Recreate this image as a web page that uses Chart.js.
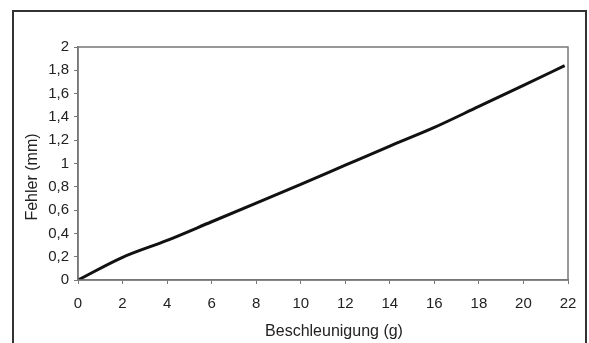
<!DOCTYPE html>
<html>
<head>
<meta charset="utf-8">
<script src="https://cdn.jsdelivr.net/npm/chart.js@4/dist/chart.umd.min.js"></script>
<style>
  html, body { margin: 0; padding: 0; background: #fff; }
  #wrap { width: 589px; height: 343px; }
</style>
</head>
<body>
<div id="wrap"><canvas id="err-chart" width="589" height="343"></canvas></div>
<script>
// Beschleunigung (g) vs. Fehler (mm)
var accel = [0, 2, 4, 6, 8, 10, 12, 14, 16, 18, 20, 21.85];
var fehler = [0, 0.195, 0.34, 0.5, 0.66, 0.82, 0.985, 1.15, 1.31, 1.49, 1.67, 1.84];
var xTickLabels = ['0', '2', '4', '6', '8', '10', '12', '14', '16', '18', '20', '22'];
var yTickLabels = ['0', '0,2', '0,4', '0,6', '0,8', '1', '1,2', '1,4', '1,6', '1,8', '2'];
var xTitle = 'Beschleunigung (g)';
var yTitle = 'Fehler (mm)';

var points = accel.map(function (a, i) { return { x: a, y: fehler[i] }; });
var fontFam = '"Liberation Sans", Arial, sans-serif';

// outer frame, plot box and the two axis titles
var framePlugin = {
    id: 'frame',
    beforeDraw: function (chart) {
        var c = chart.ctx;
        c.save();
        c.fillStyle = '#fff';
        c.fillRect(0, 0, chart.width, chart.height);
        c.strokeStyle = '#333';
        c.lineWidth = 2;
        c.beginPath();
        c.moveTo(13, 350);
        c.lineTo(13, 11);
        c.lineTo(586, 11);
        c.lineTo(586, 350);
        c.stroke();
        c.restore();
    },
    afterDraw: function (chart) {
        var a = chart.chartArea;
        var c = chart.ctx;
        c.save();
        c.strokeStyle = '#777';
        c.lineWidth = 1.5;
        c.strokeRect(a.left, a.top, a.right - a.left, a.bottom - a.top);
        c.fillStyle = '#222';
        c.font = '16px ' + fontFam;
        c.textAlign = 'center';
        c.textBaseline = 'middle';
        c.fillText(xTitle, 334, 332);
        c.translate(33, 177);
        c.rotate(-Math.PI / 2);
        c.fillText(yTitle, 0, 0);
        c.restore();
    }
};

var ctx = document.getElementById('err-chart').getContext('2d');
var myChart = new Chart(ctx, {
    type: 'line',
    data: {
        datasets: [{
            data: points,
            borderColor: '#111',
            borderWidth: 3,
            pointRadius: 0,
            cubicInterpolationMode: 'monotone',
            fill: false
        }]
    },
    options: {
        responsive: false,
        animation: false,
        layout: { padding: { top: 47, right: 21, left: 0, bottom: 0 } },
        plugins: { legend: { display: false }, tooltip: { enabled: false } },
        scales: {
            x: {
                type: 'linear',
                min: 0,
                max: 22,
                afterFit: function (s) { s.height = 63; },
                ticks: {
                    stepSize: 2,
                    padding: 11,
                    color: '#222',
                    font: { size: 15, family: fontFam },
                    maxRotation: 0,
                    callback: function (v, i) { return xTickLabels[i]; }
                },
                grid: { drawOnChartArea: false, tickLength: 4, color: '#777' },
                border: { color: '#777', width: 1.5 }
            },
            y: {
                min: 0,
                max: 2,
                afterFit: function (s) { s.width = 78; },
                ticks: {
                    stepSize: 0.2,
                    padding: 5,
                    color: '#222',
                    font: { size: 15, family: fontFam },
                    callback: function (v, i) { return yTickLabels[i]; }
                },
                grid: { drawOnChartArea: false, tickLength: 4, color: '#777' },
                border: { color: '#777', width: 1.5 }
            }
        }
    },
    plugins: [framePlugin]
});
</script>
</body>
</html>
